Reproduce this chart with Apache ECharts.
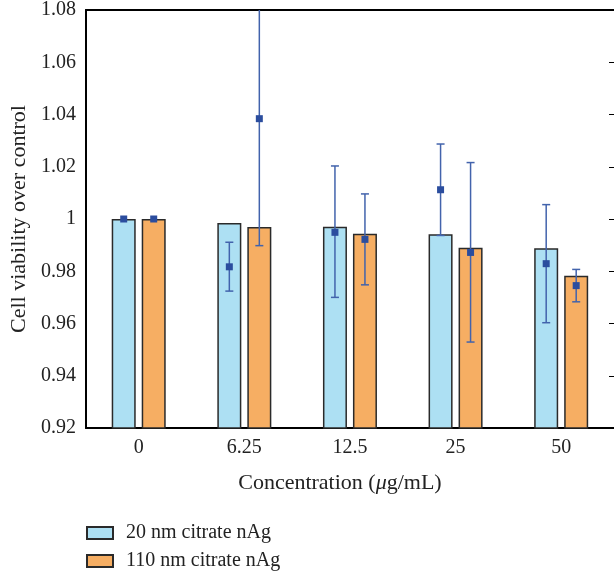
<!DOCTYPE html>
<html>
<head>
<meta charset="utf-8">
<script src="https://cdn.jsdelivr.net/npm/echarts@6/dist/echarts.min.js"></script>
<style>
  html, body { margin: 0; padding: 0; background: #fff; }
  #chart { width: 614px; height: 577px; }
</style>
</head>
<body>
<div id="chart"></div>
<script>
// concentrations (ug/mL)
const categories = ['0', '6.25', '12.5', '25', '50'];

// bar heights
const bar20 = [1.000, 0.9985, 0.9970, 0.9942, 0.9888];
const bar110 = [1.000, 0.9969, 0.9944, 0.9890, 0.9783];

// square markers with error ranges
const mean20 = [1.000, 0.9817, 0.9949, 1.0112, 0.9829];
const low20 = [1.000, 0.9724, 0.9700, 0.9937, 0.9603];
const high20 = [1.000, 0.9911, 1.0203, 1.0287, 1.0055];
const mean110 = [1.000, 1.0384, 0.9922, 0.9872, 0.9745];
const low110 = [1.000, 0.9898, 0.9748, 0.9529, 0.9683];
const high110 = [1.000, 1.087, 1.0096, 1.0216, 0.9807];

const yTicks = { min: 0.92, max: 1.08, step: 0.02 };

const FONT = '"Liberation Serif", "DejaVu Serif", serif';
const errColor = '#4263ac';
const markColor = '#2b4d9e';

function errData(mean, low, high) {
  return mean.map((m, i) => [i, m, low[i], high[i]]);
}

// draws the whisker and the square, shifted onto its bar
function makeErrRender(shift) {
  return function (params, api) {
    const cs = params.coordSys;
    const i = api.value(0);
    const c = api.coord([i, api.value(1)]);
    const lo = api.coord([i, api.value(2)]);
    const hi = api.coord([i, api.value(3)]);
    const x = c[0] + shift;
    const yTop = Math.max(hi[1], cs.y);
    const yBot = Math.min(lo[1], cs.y + cs.height);
    const children = [];
    if (yBot - yTop > 0.5) {
      const ls = { stroke: errColor, lineWidth: 1.5 };
      children.push({ type: 'line', shape: { x1: x, y1: yTop, x2: x, y2: yBot }, style: ls });
      if (hi[1] >= cs.y) {
        children.push({ type: 'line', shape: { x1: x - 4, y1: yTop, x2: x + 4, y2: yTop }, style: ls });
      }
      children.push({ type: 'line', shape: { x1: x - 4, y1: yBot, x2: x + 4, y2: yBot }, style: ls });
    }
    children.push({
      type: 'rect',
      shape: { x: x - 3.5, y: c[1] - 3.5, width: 7, height: 7 },
      style: { fill: markColor }
    });
    return { type: 'group', children: children };
  };
}

const chart = echarts.init(document.getElementById('chart'), null, { renderer: 'canvas' });

chart.setOption({
  animation: false,
  backgroundColor: '#fff',
  textStyle: { fontFamily: FONT },
  grid: { left: 85, top: 10, width: 530, height: 418 },
  legend: {
    data: ['20 nm citrate nAg', '110 nm citrate nAg'],
    orient: 'vertical',
    icon: 'rect',
    left: 86,
    top: 523,
    padding: 0,
    itemWidth: 26,
    itemHeight: 12,
    itemGap: 8,
    textStyle: { fontFamily: FONT, fontSize: 20, color: '#222', padding: [0, 0, 0, 8] }
  },
  xAxis: [
    {
      type: 'category',
      data: categories,
      position: 'bottom',
      axisLine: { lineStyle: { color: '#000', width: 2 } },
      axisTick: { inside: true, alignWithLabel: true, length: 3, lineStyle: { color: '#000' } },
      axisLabel: { fontFamily: FONT, fontSize: 20, color: '#222', margin: 10 },
      name: 'Concentration ({i|μ}g/mL)',
      nameLocation: 'middle',
      nameGap: 44,
      nameTextStyle: {
        fontFamily: FONT, fontSize: 22, color: '#222', padding: [0, 20, 0, 0],
        rich: { i: { fontFamily: FONT, fontSize: 22, fontStyle: 'italic', color: '#222' } }
      }
    },
    {
      type: 'category',
      data: categories,
      position: 'top',
      axisLine: { lineStyle: { color: '#000', width: 2 } },
      axisTick: { inside: true, alignWithLabel: true, length: 5, lineStyle: { color: '#000' } },
      axisLabel: { show: false }
    }
  ],
  yAxis: [
    {
      type: 'value',
      position: 'left',
      min: yTicks.min,
      max: yTicks.max,
      interval: yTicks.step,
      axisLine: { show: true, lineStyle: { color: '#000', width: 2 } },
      axisTick: { show: false },
      splitLine: { show: false },
      axisLabel: { fontFamily: FONT, fontSize: 20, color: '#222', margin: 10 },
      name: 'Cell viability over control',
      nameLocation: 'middle',
      nameGap: 50,
      nameTextStyle: { fontFamily: FONT, fontSize: 22, color: '#222' }
    },
    {
      type: 'value',
      position: 'right',
      min: yTicks.min,
      max: yTicks.max,
      interval: yTicks.step,
      axisLine: { show: false },
      axisTick: { show: true, inside: true, length: 5, lineStyle: { color: '#000' } },
      splitLine: { show: false },
      axisLabel: { show: false }
    }
  ],
  series: [
    {
      name: '20 nm citrate nAg',
      type: 'bar',
      data: bar20,
      barWidth: 24,
      barGap: '25%',
      itemStyle: { color: '#ade0f3', borderColor: '#2a2a2a', borderWidth: 1.5 }
    },
    {
      name: '110 nm citrate nAg',
      type: 'bar',
      data: bar110,
      barWidth: 24,
      barGap: '25%',
      itemStyle: { color: '#f6ae63', borderColor: '#2a2a2a', borderWidth: 1.5 }
    },
    {
      name: 'err20',
      type: 'custom',
      renderItem: makeErrRender(-15),
      data: errData(mean20, low20, high20),
      encode: { x: 0, y: [1, 2, 3] },
      z: 5
    },
    {
      name: 'err110',
      type: 'custom',
      renderItem: makeErrRender(15),
      data: errData(mean110, low110, high110),
      encode: { x: 0, y: [1, 2, 3] },
      z: 5
    }
  ]
});
</script>
</body>
</html>
